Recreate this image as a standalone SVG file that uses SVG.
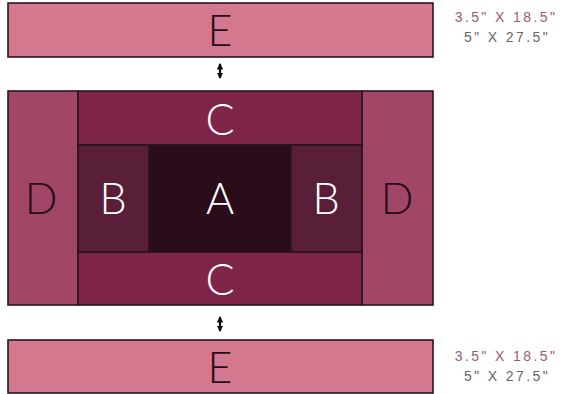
<svg xmlns="http://www.w3.org/2000/svg" width="575" height="394" viewBox="0 0 575 394">
<style>
.p{stroke:#2a1520;stroke-width:1.6}
.L{font-family:Lato,"Liberation Sans",sans-serif;font-weight:300;font-size:43px;text-anchor:middle}
.w{fill:#ffffff}
.d{fill:#2a0c1a}
.s{font-family:"Liberation Sans",sans-serif;font-size:14px;letter-spacing:2.4px;text-anchor:middle}
.s1{fill:#9a5a76}
.s2{fill:#666}
</style>
<defs>
<marker id="ah" viewBox="0 0 6 6" refX="5" refY="3" markerWidth="3" markerHeight="3" orient="auto-start-reverse"><path d="M0,0 L6,3 L0,6 z" fill="#111"/></marker>
</defs>
<rect width="575" height="394" fill="#fff"/>
<g id="E-top"><rect class="p" x="8" y="3" width="425" height="54" fill="#d4788f"/><text class="L d" x="220" y="46">E</text></g>
<g id="dims-top"><text class="s s1" x="506" y="22">3.5" X 18.5"</text><text class="s s2" x="507" y="42">5" X 27.5"</text></g>
<g id="D-left"><rect class="p" x="8" y="91" width="70" height="214" fill="#a24668"/><text class="L d" x="41" y="214">D</text></g>
<g id="D-right"><rect class="p" x="362" y="91" width="71" height="214" fill="#a24668"/><text class="L d" x="397" y="214">D</text></g>
<g id="C-top"><rect class="p" x="78" y="91" width="284" height="54" fill="#7f2549"/><text class="L w" x="220" y="135">C</text></g>
<g id="C-bottom"><rect class="p" x="78" y="252" width="284" height="53" fill="#7f2549"/><text class="L w" x="220" y="295">C</text></g>
<g id="B-left"><rect class="p" x="78" y="145" width="71" height="107" fill="#5a1f38"/><text class="L w" x="113" y="214">B</text></g>
<g id="A"><rect class="p" x="149" y="145" width="142" height="107" fill="#2a0c1a"/><text class="L w" x="220" y="214">A</text></g>
<g id="B-right"><rect class="p" x="291" y="145" width="71" height="107" fill="#5a1f38"/><text class="L w" x="326" y="214">B</text></g>
<g id="E-bottom"><rect class="p" x="8" y="340" width="425" height="53" fill="#d4788f"/><text class="L d" x="220" y="383">E</text></g>
<g id="dims-bottom"><text class="s s1" x="506" y="361">3.5" X 18.5"</text><text class="s s2" x="507" y="381">5" X 27.5"</text></g>
<g id="connectors" stroke="#111" stroke-width="2.2">
<line x1="220" y1="64" x2="220" y2="78" marker-start="url(#ah)" marker-end="url(#ah)"/>
<line x1="220" y1="317" x2="220" y2="331" marker-start="url(#ah)" marker-end="url(#ah)"/>
</g>
</svg>
